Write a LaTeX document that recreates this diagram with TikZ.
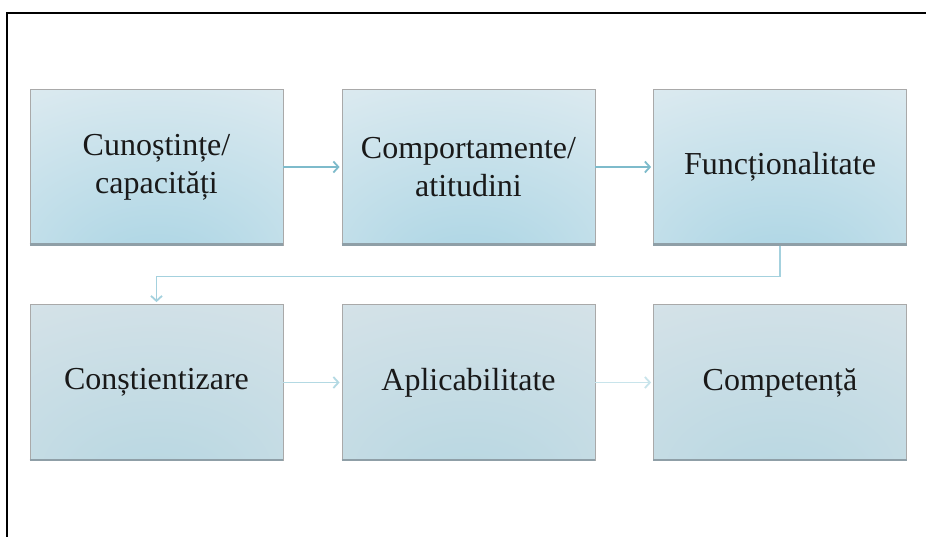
\documentclass[tikz,border=0pt]{standalone}
\usepackage{fontspec}
\setmainfont{Liberation Serif}
\usetikzlibrary{arrows.meta}

\definecolor{glowrowa}{HTML}{A7D3E3}
\definecolor{edgerowa}{HTML}{E5EEF2}
\definecolor{glowrowb}{HTML}{B5D6E1}
\definecolor{edgerowb}{HTML}{DAE4E9}
\definecolor{boxline}{HTML}{A9A9A9}
\definecolor{boxfoot}{HTML}{8F9FA7}
\definecolor{linka}{HTML}{7EBBCB}
\definecolor{linkb}{HTML}{A4D1DE}
\definecolor{linkc}{HTML}{B3D9E3}
\definecolor{linkd}{HTML}{C8E4EB}

\pgfdeclareradialshading{glowa}{\pgfpoint{0bp}{-38bp}}{color(0bp)=(glowrowa); color(58bp)=(edgerowa); color(90bp)=(edgerowa)}
\pgfdeclareradialshading{glowb}{\pgfpoint{0bp}{-38bp}}{color(0bp)=(glowrowb); color(58bp)=(edgerowb); color(90bp)=(edgerowb)}

\tikzset{
  stagebox/.style={rectangle, draw=boxline, line width=0.8pt, minimum width=253pt,
    minimum height=156pt, inner sep=0pt, align=center, text=black!90,
    font=\fontsize{32}{38}\selectfont},
  toprow/.style={stagebox, shading=glowa},
  lowrow/.style={stagebox, shading=glowb},
  link/.style={line width=1.8pt, -{Straight Barb[length=5pt,width=11pt]}, shorten >=2pt}
}

\begin{document}
\begin{tikzpicture}[x=1pt,y=-1pt]
    \useasboundingbox[fill=white] (0,0) rectangle (926,536);
    % frame of the page
    \draw[line width=2pt] (7,540) -- (7,13) -- (930,13);

    % first row
    \node[toprow] (know) at (156.5,167) {Cunoștințe/\\capacități};
    \node[toprow] (behave) at (468.5,167) {Comportamente/\\atitudini};
    \node[toprow] (func) at (780,167) {Funcționalitate};

    % second row
    \node[lowrow] (aware) at (156.5,382.5) {Conștientizare};
    \node[lowrow] (apply) at (468.5,382.5) {Aplicabilitate};
    \node[lowrow] (skill) at (780,382.5) {Competență};

    % darker bottom edges
    \foreach \b in {know,behave,func,aware,apply,skill}
        \draw[boxfoot, line width=2.4pt] ([yshift=1pt]\b.south west) -- ([yshift=1pt]\b.south east);

    \draw[link, linka] (know) -- (behave);
    \draw[link, linka] (behave) -- (func);
    \draw[link, linkb] ([yshift=-1pt]func.south) -- ++(0,30) -| (aware.north);
    \draw[link, linkc] (aware) -- (apply);
    \draw[link, linkd] (apply) -- (skill);
\end{tikzpicture}
\end{document}
